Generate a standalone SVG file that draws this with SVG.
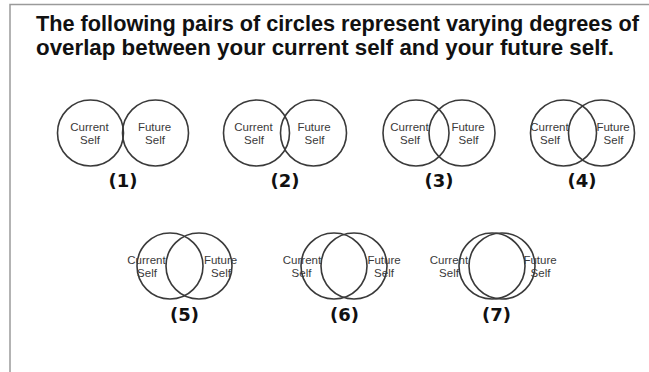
<svg xmlns="http://www.w3.org/2000/svg" width="649" height="372" viewBox="0 0 649 372">
<style>
.bg{fill:#ffffff}
.frame{stroke:#9a9a9a;stroke-width:1.5;fill:none}
.title{font-family:"Liberation Sans",Arial,sans-serif;font-weight:bold;font-size:22px;fill:#111}
.c{fill:none;stroke:#3a3a3a;stroke-width:1.6}
.t{font-family:"Liberation Sans",Arial,sans-serif;font-size:11.5px;fill:#3a3a3a;text-anchor:middle}
.n{font-family:"DejaVu Sans",sans-serif;font-weight:bold;font-size:18px;fill:#111;text-anchor:middle}
</style>
<rect class="bg" x="0" y="0" width="649" height="372"/>
<path class="frame" d="M10,372 V4.5 H649"/>
<g id="title">
<text class="title" x="36" y="31" textLength="603" lengthAdjust="spacingAndGlyphs">The following pairs of circles represent varying degrees of</text>
<text class="title" x="36" y="55" textLength="578" lengthAdjust="spacingAndGlyphs">overlap between your current self and your future self.</text>
</g>
<g id="pair1">
<circle class="c" cx="90.5" cy="133" r="33"/>
<circle class="c" cx="155.5" cy="133" r="33"/>
<text class="t" x="89.5" y="131">Current</text><text class="t" x="90" y="144">Self</text>
<text class="t" x="154.5" y="131">Future</text><text class="t" x="155" y="144">Self</text>
<text class="n" x="123" y="187">(1)</text>
</g>
<g id="pair2">
<circle class="c" cx="256.5" cy="133" r="33"/>
<circle class="c" cx="313.5" cy="133" r="33"/>
<text class="t" x="253.5" y="131">Current</text><text class="t" x="254" y="144">Self</text>
<text class="t" x="314" y="131">Future</text><text class="t" x="314.5" y="144">Self</text>
<text class="n" x="285" y="187">(2)</text>
</g>
<g id="pair3">
<circle class="c" cx="416" cy="133" r="33"/>
<circle class="c" cx="462" cy="133" r="33"/>
<text class="t" x="409.5" y="131">Current</text><text class="t" x="410" y="144">Self</text>
<text class="t" x="468" y="131">Future</text><text class="t" x="468.5" y="144">Self</text>
<text class="n" x="439" y="187">(3)</text>
</g>
<g id="pair4">
<circle class="c" cx="563.5" cy="133" r="33"/>
<circle class="c" cx="601.5" cy="133" r="33"/>
<text class="t" x="549.5" y="131">Current</text><text class="t" x="550" y="144">Self</text>
<text class="t" x="613" y="131">Future</text><text class="t" x="613.5" y="144">Self</text>
<text class="n" x="582" y="187">(4)</text>
</g>
<g id="pair5">
<circle class="c" cx="170" cy="266" r="33"/>
<circle class="c" cx="199" cy="266" r="33"/>
<text class="t" x="146.5" y="264">Current</text><text class="t" x="147" y="277">Self</text>
<text class="t" x="220.5" y="264">Future</text><text class="t" x="221" y="277">Self</text>
<text class="n" x="184.5" y="321">(5)</text>
</g>
<g id="pair6">
<circle class="c" cx="334" cy="266" r="33"/>
<circle class="c" cx="354" cy="266" r="33"/>
<text class="t" x="302" y="264">Current</text><text class="t" x="301.5" y="277">Self</text>
<text class="t" x="384" y="264">Future</text><text class="t" x="384" y="277">Self</text>
<text class="n" x="344.5" y="321">(6)</text>
</g>
<g id="pair7">
<circle class="c" cx="492" cy="266" r="33"/>
<circle class="c" cx="502" cy="266" r="33"/>
<text class="t" x="449" y="264">Current</text><text class="t" x="449" y="277">Self</text>
<text class="t" x="540" y="264">Future</text><text class="t" x="540.5" y="277">Self</text>
<text class="n" x="496.5" y="321">(7)</text>
</g>
</svg>
